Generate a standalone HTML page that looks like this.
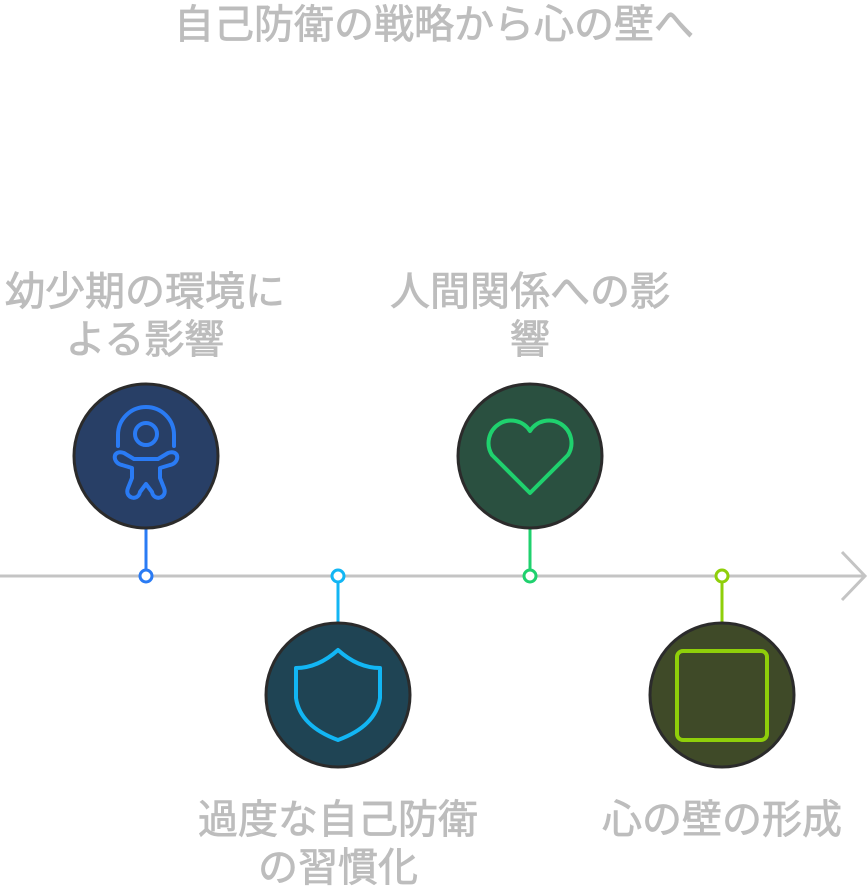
<!DOCTYPE html>
<html><head><meta charset="utf-8"><style>
body{margin:0;background:#fff;width:868px;height:888px;overflow:hidden;position:relative;font-family:"Liberation Sans","Noto Sans CJK JP",sans-serif}
.t{position:absolute;color:#bdbdbd;font-size:40px;font-weight:normal;-webkit-text-stroke:0.8px #bdbdbd;text-align:center;line-height:48px;white-space:nowrap}
</style></head><body>
<div class="t" style="left:0;width:868px;top:1px">自己防衛の戦略から心の壁へ</div>
<div class="t" style="left:-5px;width:300px;top:268px">幼少期の環境に<br>よる影響</div>
<div class="t" style="left:380px;width:300px;top:268px">人間関係への影<br>響</div>
<div class="t" style="left:188px;width:300px;top:796px">過度な自己防衛<br>の習慣化</div>
<div class="t" style="left:572px;width:300px;top:796px">心の壁の形成</div>
<svg width="868" height="888" style="position:absolute;left:0;top:0">
<line x1="0" y1="576" x2="864" y2="576" stroke="#c4c4c4" stroke-width="3"/>
<polyline points="842,552 865,576 842,600" fill="none" stroke="#c4c4c4" stroke-width="3"/>
<line x1="146" y1="528" x2="146" y2="570" stroke="#2a7bf4" stroke-width="3"/>
<circle cx="146" cy="576" r="6" fill="#fff" stroke="#2a7bf4" stroke-width="3"/>
<circle cx="146" cy="456" r="72" fill="#283f66" stroke="#2b2b2b" stroke-width="3"/>
<g fill="none" stroke="#2a7bf4" stroke-width="4" stroke-linecap="round" stroke-linejoin="round">
<path d="M118,446 V435 a28,28 0 0 1 56,0 V446"/>
<circle cx="146" cy="434" r="11"/>
<path d="M124,453 c-12,-4 -12,10 -2,12 l10,3 l0,10 l-4,10 c-4,10 10,14 12,4 l6,-8 l6,8 c2,10 16,6 12,-4 l-4,-10 l0,-10 l10,-3 c10,-2 10,-16 -2,-12 l-10,6 h-24 z"/>
</g>
<line x1="338" y1="582" x2="338" y2="624" stroke="#12b6f4" stroke-width="3"/>
<circle cx="338" cy="576" r="6" fill="#fff" stroke="#12b6f4" stroke-width="3"/>
<circle cx="338" cy="695" r="72" fill="#1f4454" stroke="#2b2b2b" stroke-width="3"/>
<path d="M296,668 q22,0 42,-18 q20,18 42,18 v30 q-4,28 -42,42 q-38,-14 -42,-42 z" fill="none" stroke="#12b6f4" stroke-width="4" stroke-linejoin="round"/>
<line x1="530" y1="528" x2="530" y2="570" stroke="#1fd16e" stroke-width="3"/>
<circle cx="530" cy="576" r="6" fill="#fff" stroke="#1fd16e" stroke-width="3"/>
<circle cx="530" cy="456" r="72" fill="#2a5040" stroke="#2b2b2b" stroke-width="3"/>
<path d="M530,493 l-38,-38 a19,19 0 0 1 38,-24 a19,19 0 0 1 38,24 z" fill="none" stroke="#1fd16e" stroke-width="4" stroke-linejoin="round"/>
<line x1="722" y1="582" x2="722" y2="624" stroke="#8fcf0a" stroke-width="3"/>
<circle cx="722" cy="576" r="6" fill="#fff" stroke="#8fcf0a" stroke-width="3"/>
<circle cx="722" cy="695" r="72" fill="#3f4a28" stroke="#2b2b2b" stroke-width="3"/>
<rect x="677" y="651" width="90" height="89" rx="6" fill="none" stroke="#8fcf0a" stroke-width="4"/>
</svg>
</body></html>
